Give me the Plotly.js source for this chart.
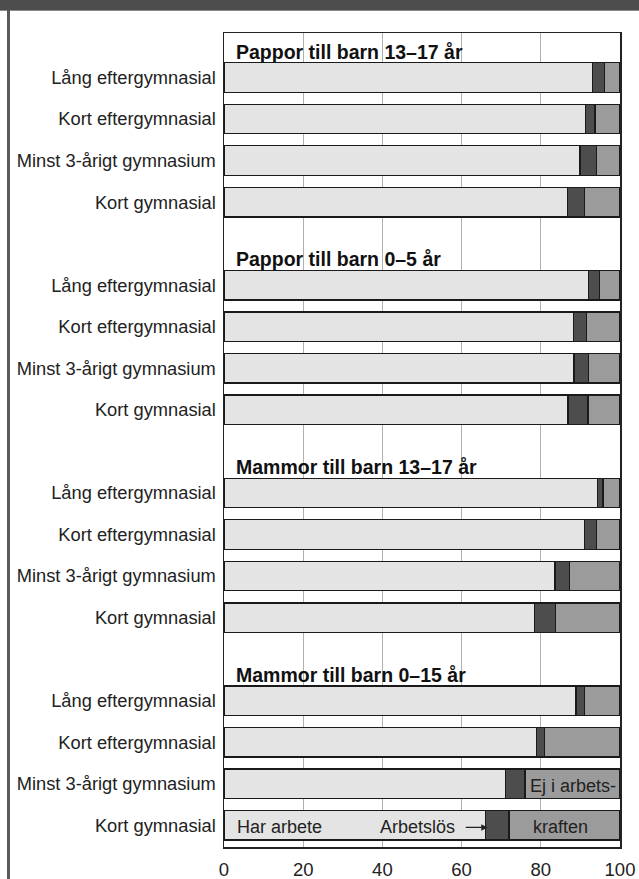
<!DOCTYPE html>
<html>
<head>
<meta charset="utf-8">
<script src="https://cdn.plot.ly/plotly-3.0.1.min.js"></script>
<style>
  html, body { margin: 0; padding: 0; background: #ffffff; }
  #wrap { position: relative; width: 639px; height: 879px; overflow: hidden; }
  #chart { position: absolute; left: 0; top: 0; width: 639px; height: 879px; }
  #band { position: absolute; left: 0; top: 0; width: 639px; height: 10px; background: #4d4d4d; border-bottom: 1px solid #8a8a8a; pointer-events: none; }
  #leftline { position: absolute; left: 7px; top: 10px; width: 3px; height: 869px; background: #5a5a5a; pointer-events: none; }
</style>
</head>
<body>
<div id="wrap">
  <div id="chart"></div>
  <div id="band"></div>
  <div id="leftline"></div>
</div>
<script>
// ---- data ----
var groups = ["Pappor till barn 13–17 år", "Pappor till barn 0–5 år", "Mammor till barn 13–17 år", "Mammor till barn 0–15 år"];
var education = ["Lång eftergymnasial", "Kort eftergymnasial", "Minst 3-årigt gymnasium", "Kort gymnasial"];

// percent per group (rows in education order)
var harArbete = [
  [93.0, 91.2, 89.9, 86.8],
  [92.0, 88.3, 88.4, 86.9],
  [94.3, 91.0, 83.6, 78.4],
  [88.9, 79.0, 71.0, 66.0]
];
var arbetslos = [
  [3.0, 2.5, 4.1, 4.2],
  [2.9, 3.3, 3.6, 5.0],
  [1.4, 3.0, 3.7, 5.3],
  [2.1, 2.0, 5.0, 6.0]
];
var ejArbetskraften = [
  [4.0, 6.3, 6.0, 9.0],
  [5.1, 8.4, 8.0, 8.1],
  [4.3, 6.0, 12.7, 16.3],
  [9.0, 19.0, 24.0, 28.0]
];
var xTicks = [0, 20, 40, 60, 80, 100];

// ---- build ----
var FONT = '"Liberation Sans", Arial, sans-serif';
var rowPos = [], rowLabels = [], v1 = [], v2 = [], v3 = [];
for (var g = 0; g < groups.length; g++) {
  for (var i = 0; i < education.length; i++) {
    rowPos.push(g * 5 + 1 + i);
    rowLabels.push(education[i]);
    v1.push(harArbete[g][i]);
    v2.push(arbetslos[g][i]);
    v3.push(ejArbetskraften[g][i]);
  }
}

var BW = 0.71;
var lineStyle = { color: '#1a1a1a', width: 1.3 };
var traces = [
  { type: 'bar', orientation: 'h', name: 'Har arbete', x: v1, y: rowPos, width: BW,
    marker: { color: '#e4e4e4', line: lineStyle }, hoverinfo: 'x' },
  { type: 'bar', orientation: 'h', name: 'Arbetslös', x: v2, y: rowPos, width: BW,
    marker: { color: '#4d4d4d', line: lineStyle }, hoverinfo: 'x' },
  { type: 'bar', orientation: 'h', name: 'Ej i arbetskraften', x: v3, y: rowPos, width: BW,
    marker: { color: '#9b9b9b', line: lineStyle }, hoverinfo: 'x' }
];

var annotations = [];
for (var g2 = 0; g2 < groups.length; g2++) {
  annotations.push({
    text: '<b>' + groups[g2] + '</b>', xref: 'x', yref: 'y',
    x: 0, y: g2 * 5 + 1 - BW / 2, xanchor: 'left', yanchor: 'bottom',
    xshift: 10, yshift: -2, showarrow: false,
    font: { family: FONT, size: 19.5, color: '#111' }
  });
}
var lastRow = 3 * 5 + 1 + 3;
annotations.push({ text: 'Har arbete', xref: 'x', yref: 'y', x: 0, y: lastRow, xanchor: 'left',
  yanchor: 'middle', xshift: 11, yshift: -2, showarrow: false, font: { family: FONT, size: 18, color: '#222' } });
annotations.push({ text: 'Arbetslös', xref: 'x', yref: 'y', x: harArbete[3][3] + 0.6, y: lastRow,
  ax: -70, ay: 0, showarrow: true, arrowhead: 2, arrowsize: 1, arrowwidth: 1.3, arrowcolor: '#222',
  startstandoff: 9, yshift: -2, font: { family: FONT, size: 18, color: '#222' } });
annotations.push({ text: 'kraften', xref: 'x', yref: 'y', x: 85, y: lastRow, xanchor: 'center',
  yanchor: 'middle', yshift: -2, showarrow: false, font: { family: FONT, size: 18, color: '#222' } });
annotations.push({ text: 'Ej i arbets-', xref: 'x', yref: 'y', x: 88.2, y: lastRow - 1, xanchor: 'center',
  yanchor: 'middle', yshift: -2, showarrow: false, font: { family: FONT, size: 18, color: '#222' } });

var layout = {
  width: 639, height: 879,
  margin: { l: 224, r: 18.5, t: 33, b: 32, pad: 0 },
  paper_bgcolor: '#ffffff', plot_bgcolor: '#ffffff',
  barmode: 'stack', bargap: 0,
  showlegend: false,
  font: { family: FONT, size: 18, color: '#222' },
  xaxis: {
    range: [0, 100], tickvals: xTicks, ticktext: xTicks.map(String),
    showgrid: true, gridcolor: '#b0b0b0', gridwidth: 1, zeroline: false,
    showline: true, linecolor: '#222', linewidth: 1.5, mirror: true,
    ticks: '', ticklabelstandoff: 5, fixedrange: true,
    tickfont: { family: FONT, size: 18.5, color: '#222' }
  },
  yaxis: {
    range: [19.52, -0.07], tickvals: rowPos, ticktext: rowLabels,
    showgrid: false, zeroline: false,
    showline: true, linecolor: '#222', linewidth: 1.5, mirror: true,
    ticks: '', ticklabelstandoff: 3, fixedrange: true,
    tickfont: { family: FONT, size: 18.3, color: '#222' }
  },
  annotations: annotations
};

Plotly.newPlot('chart', traces, layout, { displayModeBar: false, staticPlot: true });
</script>
</body>
</html>
